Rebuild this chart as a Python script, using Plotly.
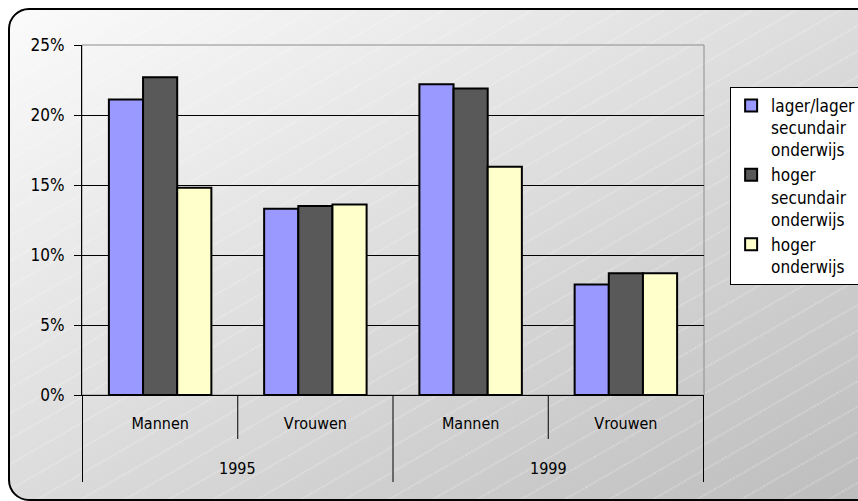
import base64
import plotly.graph_objects as go

# data
years = ["1995", "1995", "1999", "1999"]
genders = ["Mannen", "Vrouwen", "Mannen", "Vrouwen"]
lager = [21.1, 13.3, 22.2, 7.9]
hoger_sec = [22.7, 13.5, 21.9, 8.7]
hoger = [14.8, 13.6, 16.3, 8.7]

names = ["lager/lager<br>secundair<br>onderwijs", "hoger<br>secundair<br>onderwijs", "hoger<br>onderwijs"]
colors = ["#9999ff", "#595959", "#ffffcc"]

W, H = 858, 501
L, R, T, B = 82, 154, 45, 106
pw, ph = W - L - R, H - T - B

# unique category keys, shown as gender labels
cats = [y + " " + g for y, g in zip(years, genders)]

# background: gradient + faint diagonal hatching + rounded frame
svg = f"""<svg xmlns='http://www.w3.org/2000/svg' width='{W}' height='{H}' viewBox='0 0 {W} {H}'>
<defs>
<linearGradient id='g' x1='0' y1='0' x2='1' y2='1'>
<stop offset='0' stop-color='#fbfbfb'/><stop offset='1' stop-color='#bcbcbc'/></linearGradient>
<pattern id='p' width='22' height='22' patternUnits='userSpaceOnUse' patternTransform='rotate(-30)'>
<line x1='0' y1='11' x2='22' y2='11' stroke='#ffffff' stroke-opacity='0.45' stroke-width='1' stroke-dasharray='2,1'/></pattern>
</defs>
<rect width='{W}' height='{H}' fill='white'/>
<rect x='9' y='9' width='{W + 20}' height='{H - 10}' rx='20' ry='20' fill='url(#g)'/>
<rect x='9' y='9' width='{W + 20}' height='{H - 10}' rx='20' ry='20' fill='url(#p)' stroke='black' stroke-width='2'/>
</svg>"""
bg = "data:image/svg+xml;base64," + base64.b64encode(svg.encode()).decode()

fig = go.Figure()
for name, vals, col in zip(names, [lager, hoger_sec, hoger], colors):
    fig.add_trace(go.Bar(x=cats, y=vals, name=name,
                         marker=dict(color=col, line=dict(color="black", width=2))))

fig.add_layout_image(source=bg, xref="paper", yref="paper",
                     x=-L / pw, y=1 + T / ph, sizex=W / pw, sizey=H / ph,
                     xanchor="left", yanchor="top", sizing="stretch", layer="below")
fig.add_shape(type="rect", xref="paper", yref="paper", x0=0, x1=1, y0=0, y1=1,
              line=dict(color="#8c8c8c", width=1), layer="below")

# category dividers: short between genders, long between years / at the ends
n = len(cats)
for i in range(n + 1):
    edge = i == 0 or i == n or years[i - 1] != years[i]
    fig.add_shape(type="line", xref="x", yref="paper", x0=i - 0.5, x1=i - 0.5,
                  y0=0, y1=-(87 if edge else 44) / ph, line=dict(color="black", width=1))

# year labels
for yr in dict.fromkeys(years):
    idx = [i for i, y in enumerate(years) if y == yr]
    fig.add_annotation(x=sum(idx) / len(idx), y=-73 / ph, xref="x", yref="paper",
                       text=yr, showarrow=False, yanchor="middle",
                       font=dict(size=16))

font = "DejaVu Sans Condensed, DejaVu Sans, sans-serif"
fig.update_layout(
    width=W, height=H,
    margin=dict(l=L, r=R, t=T, b=B, autoexpand=False),
    paper_bgcolor="white", plot_bgcolor="rgba(0,0,0,0)",
    barmode="group", bargap=0.34, bargroupgap=0,
    font=dict(family=font, size=16, color="black"),
    showlegend=True,
    legend=dict(x=1.042, y=0.88, xanchor="left", yanchor="top", valign="top",
                bgcolor="white", bordercolor="black", borderwidth=1,
                font=dict(size=17), tracegroupgap=0, itemwidth=30),
    xaxis=dict(type="category", tickvals=cats, ticktext=genders,
               showline=True, linecolor="black", linewidth=1,
               ticks="", ticklabelstandoff=14, showgrid=False, fixedrange=True),
    yaxis=dict(range=[0, 25], dtick=5, ticksuffix="%", showline=True,
               linecolor="black", linewidth=1, ticks="outside", ticklen=7,
               tickcolor="black", gridcolor="black", gridwidth=1,
               tickfont=dict(size=17), ticklabelstandoff=6,
               zeroline=False, fixedrange=True),
)

fig.write_html("out.html", config={"displayModeBar": False},
               post_script="document.body.style.margin='0';")
